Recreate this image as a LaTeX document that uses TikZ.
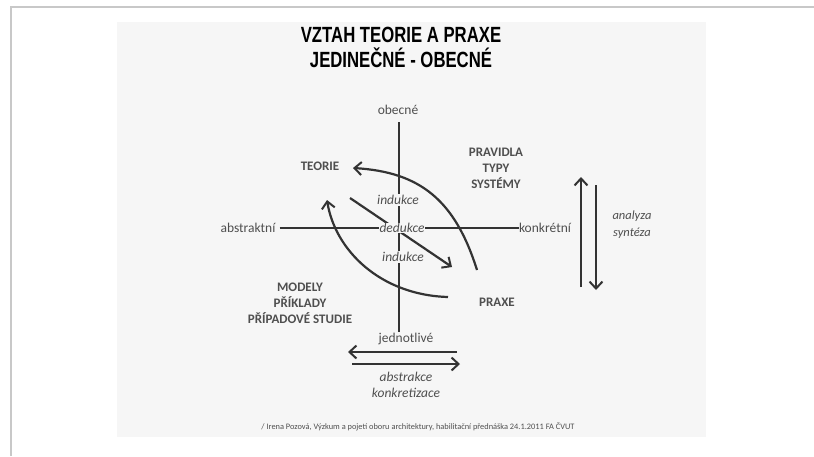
\documentclass[tikz,border=0pt]{standalone}
\usepackage{fontspec}
\setmainfont{Carlito}
\newfontfamily\titlefont{Liberation Sans}
\usetikzlibrary{arrows.meta}
\definecolor{inbg}{HTML}{F6F6F6}
\definecolor{framec}{HTML}{C8C8C8}
\definecolor{ink}{HTML}{333333}
\definecolor{txt}{HTML}{4F4F4F}
\tikzset{
  conn/.style={draw=ink, line width=2.2pt},
  arr/.style={conn, -{Straight Barb[length=7pt,width=13pt,line width=2pt]}},
  capslab/.style={text=txt, font=\fontsize{13}{16}\selectfont\bfseries, align=center, inner sep=1pt},
  lowlab/.style={text=txt, font=\fontsize{13.5}{16}\selectfont, inner sep=1pt},
  itlab/.style={text=txt, font=\fontsize{13.5}{16}\selectfont\itshape, inner sep=1.5pt, fill=inbg},
  titlelab/.style={text=black, font=\titlefont\fontsize{22}{22}\selectfont\bfseries, inner sep=0pt},
}
\begin{document}
\begin{tikzpicture}[x=1pt,y=-1pt]
\useasboundingbox (0,0) rectangle (814,456);
\fill[white] (0,0) rectangle (814,456);
\draw[framec, line width=2pt] (11,456) -- (11,7) -- (814,7);
\fill[inbg] (117,22) rectangle (706,437);

% titles
\node[titlelab] (t1) at (401,35) {\scalebox{0.76}[1]{VZTAH TEORIE A PRAXE}};
\node[titlelab] (t2) at (401,58) {\scalebox{0.76}[1]{JEDINEČNÉ - OBECNÉ}};

% axis labels
\node[lowlab] (obec) at (398,110) {obecné};
\node[lowlab] (jedn) at (406,339) {jednotlivé};
\node[lowlab, inner sep=4pt] (abstr) at (248,228) {abstraktní};
\node[lowlab, inner sep=0pt] (konkr) at (545,228) {konkrétní};

% quadrant labels
\node[capslab] (teorie) at (320,166) {TEORIE};
\node[capslab] (prav) at (496,168) {PRAVIDLA\\TYPY\\SYSTÉMY};
\node[capslab] (praxe) at (497,302) {PRAXE};
\node[capslab] (modely) at (300,303) {MODELY\\PŘÍKLADY\\PŘÍPADOVÉ STUDIE};

% axes
\coordinate (vtop) at (399,122);
\coordinate (vbot) at (399,332);
\draw[conn] (vtop) -- (vbot);
\draw[conn] (abstr.east) -- (konkr.west);

% curves
\coordinate (c1s) at (477,270);
\coordinate (c1e) at (353,168);
\draw[arr] (c1s) .. controls (455,200) and (420,172) .. (c1e);
\coordinate (c2s) at (448,297);
\coordinate (c2e) at (327,200);
\draw[arr] (c2s) .. controls (380,295) and (335,250) .. (c2e);
\coordinate (d1s) at (350,198);
\coordinate (d1e) at (452,267);
\draw[arr] (d1s) -- (d1e);

% centre labels
\node[itlab] (ind1) at (398,200) {indukce};
\node[itlab, inner sep=0.5pt] (ded) at (402,228) {dedukce};
\node[itlab] (ind2) at (403,257) {indukce};

% right arrows
\coordinate (u1) at (581,287);
\coordinate (u2) at (581,177);
\draw[arr] (u1) -- (u2);
\coordinate (w1) at (596,185);
\coordinate (w2) at (596,290);
\draw[arr] (w1) -- (w2);
\node[itlab, fill=none, align=center, font=\fontsize{12.5}{17}\selectfont\itshape] (anal) at (632,225) {analyza\\syntéza};

% bottom arrows
\coordinate (b1) at (457,352);
\coordinate (b2) at (348,352);
\draw[arr] (b1) -- (b2);
\coordinate (b3) at (352,364);
\coordinate (b4) at (460,364);
\draw[arr] (b3) -- (b4);
\node[itlab, fill=none, align=center, font=\fontsize{13.5}{16}\selectfont\itshape] (abk) at (406,385) {abstrakce\\konkretizace};

% footnote
\node[text=txt, inner sep=0pt] (foot) at (418,427) {\resizebox{313pt}{!}{/ Irena Pozová, Výzkum a pojetí oboru architektury, habilitační přednáška 24.1.2011 FA ČVUT}};
\end{tikzpicture}
\end{document}
